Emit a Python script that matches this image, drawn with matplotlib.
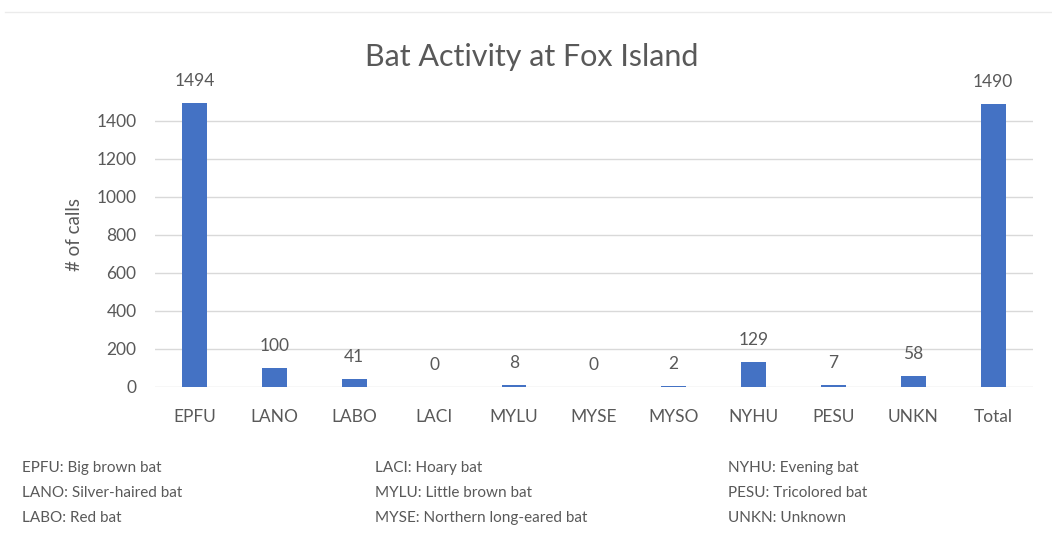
import matplotlib
matplotlib.use("Agg")
import matplotlib.pyplot as plt
from matplotlib.lines import Line2D

categories = ["EPFU", "LANO", "LABO", "LACI", "MYLU", "MYSE", "MYSO", "NYHU", "PESU", "UNKN", "Total"]
calls = [1494, 100, 41, 0, 8, 0, 2, 129, 7, 58, 1490]
yticks = [0, 200, 400, 600, 800, 1000, 1200, 1400]
legend_cols = [
    ["EPFU: Big brown bat", "LANO: Silver-haired bat", "LABO: Red bat"],
    ["LACI: Hoary bat", "MYLU: Little brown bat", "MYSE: Northern long-eared bat"],
    ["NYHU: Evening bat", "PESU: Tricolored bat", "UNKN: Unknown"],
]

plt.rcParams['font.family'] = ['Lato', 'DejaVu Sans']
txt = '#595959'

fig = plt.figure(figsize=(10.52, 5.35), dpi=100)
ax = fig.add_axes([0.147, 0.277, 0.835, 0.568])

x = list(range(len(categories)))
ax.bar(x, calls, width=0.31, color='#4472C4', zorder=3)
for xi, v in zip(x, calls):
    ax.annotate(str(v), (xi, v), xytext=(0, 16), textcoords='offset points',
                ha='center', va='center', fontsize=12.5, color=txt)

ax.set_xlim(-0.5, len(categories) - 0.5)
ax.set_ylim(0, 1600)
ax.set_yticks(yticks)
ax.set_yticklabels([str(t) for t in yticks], fontsize=12.5, color=txt)
ax.set_xticks(x)
ax.set_xticklabels(categories, fontsize=12.5, color=txt)
ax.tick_params(axis='both', length=0)
ax.tick_params(axis='x', pad=16)
ax.tick_params(axis='y', pad=13)
for t in yticks:
    ax.axhline(t, color='#D9D9D9', lw=1, zorder=1)
for s in ax.spines.values():
    s.set_visible(False)
ax.set_ylabel("# of calls", fontsize=13.5, color=txt, labelpad=10)

fig.text(0.505, 0.894, "Bat Activity at Fox Island", ha='center', va='center', fontsize=22, color=txt)

fig.add_artist(Line2D([0.005, 1.0], [0.978, 0.978], color='#EBEBEB', lw=1, transform=fig.transFigure))

xs = [22, 375, 728]
ys = [468, 493, 518]
for cx, col in zip(xs, legend_cols):
    for cy, label in zip(ys, col):
        fig.text(cx / 1052, 1 - cy / 535, label, ha='left', va='center', fontsize=11, color=txt)

fig.savefig("out.png", dpi=100)
